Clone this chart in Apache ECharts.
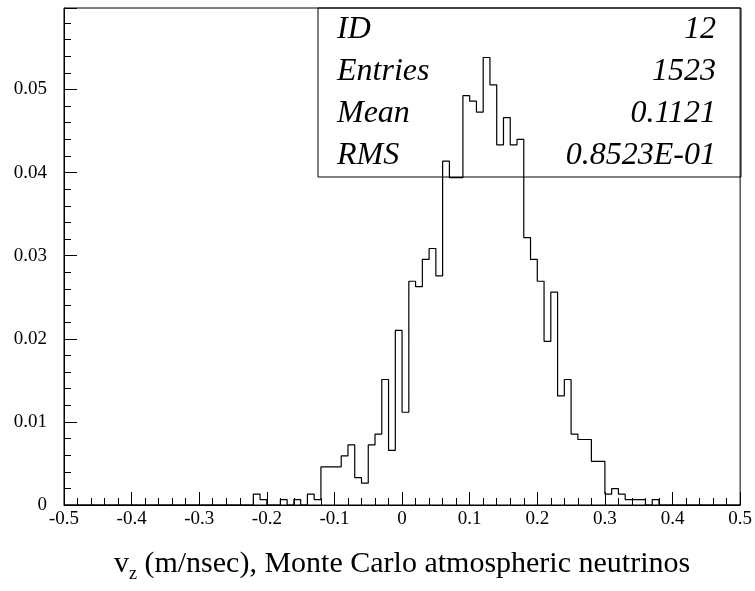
<!DOCTYPE html>
<html>
<head>
<meta charset="utf-8">
<script src="https://cdn.jsdelivr.net/npm/echarts@6/dist/echarts.min.js"></script>
<style>
html, body { margin: 0; padding: 0; background: #fff; }
#chart { width: 755px; height: 591px; }
</style>
</head>
<body>
<div id="chart"></div>
<script>
// histogram 12: counts per 0.01 bin, first bin starts at -0.22
const entries = 1523;
const binWidth = 0.01;
const firstBin = -0.22;
const counts = [
    2, 1, 0, 0, 1, 0, 1, 0, 2, 1,        // -0.22 .. -0.13
    7, 7, 7, 9, 11, 5, 4, 11, 13, 23,    // -0.12 .. -0.03
    10, 32, 17, 41, 40, 45, 47, 42, 63, 60, // -0.02 .. 0.07
    60, 75, 74, 72, 82, 77, 66, 71, 66, 67, // 0.08 .. 0.17
    49, 45, 41, 30, 39, 20, 23, 13, 12, 12, // 0.18 .. 0.27
    8, 8, 2, 3, 2, 1, 1, 1, 0, 1          // 0.28 .. 0.37
];
const statLabels = ['ID', 'Entries', 'Mean', 'RMS'];
const statValues = ['12', '1523', '0.1121', '0.8523E-01'];
const xRange = [-0.5, 0.5];
const yMax = 0.0598;

const r2 = v => Math.round(v * 1000) / 1000;

// step outline: left edge of each bin + closing points
const stepData = [[xRange[0], 0]];
counts.forEach((c, i) => {
    stepData.push([r2(firstBin + i * binWidth), c / entries]);
});
stepData.push([r2(firstBin + counts.length * binWidth), 0]);
stepData.push([xRange[1], 0]);

const serif = 'Liberation Serif';
const statFont = 'italic 32px "Liberation Serif"';

const statText = [];
statLabels.forEach((s, i) => {
    const y = 31 + i * 42;
    statText.push({
        type: 'text', left: 337, top: y - 17,
        style: { text: s, font: statFont, fill: '#000' }
    });
    statText.push({
        type: 'text', right: 39, top: y - 17,
        style: { text: statValues[i], font: statFont, fill: '#000' }
    });
});

var myChart = echarts.init(document.getElementById('chart'));
var option = {
    backgroundColor: '#fff',
    animation: false,
    grid: {
        left: 64, right: 14, top: 8, bottom: 86,
        show: true, borderColor: '#000', borderWidth: 1
    },
    xAxis: {
        type: 'value',
        min: xRange[0], max: xRange[1], interval: 0.1,
        axisLine: { show: true, onZero: false, lineStyle: { color: '#000', width: 1 } },
        axisTick: { show: true, inside: true, length: 13, lineStyle: { color: '#000' } },
        minorTick: { show: true, splitNumber: 5, length: 7, lineStyle: { color: '#000' } },
        splitLine: { show: false },
        axisLabel: {
            color: '#000', fontFamily: serif, fontSize: 19, margin: 5,
            formatter: v => String(r2(v))
        },
        name: '{v|v}{z|z}{t| (m/nsec), Monte Carlo atmospheric neutrinos}',
        nameLocation: 'middle',
        nameGap: 40,
        nameTextStyle: {
            color: '#000',
            rich: {
                v: { fontFamily: serif, fontSize: 30, color: '#000', lineHeight: 38 },
                z: { fontFamily: serif, fontSize: 18, color: '#000', verticalAlign: 'bottom', lineHeight: 18 },
                t: { fontFamily: serif, fontSize: 30, color: '#000', lineHeight: 38 }
            }
        }
    },
    yAxis: {
        type: 'value',
        min: 0, max: yMax, interval: 0.01,
        axisLine: { show: true, onZero: false, lineStyle: { color: '#000', width: 1 } },
        axisTick: { show: true, inside: true, length: 13, lineStyle: { color: '#000' } },
        minorTick: { show: true, splitNumber: 5, length: 7, lineStyle: { color: '#000' } },
        splitLine: { show: false },
        axisLabel: {
            color: '#000', fontFamily: serif, fontSize: 19, margin: 17,
            showMaxLabel: false,
            formatter: v => String(r2(v))
        }
    },
    series: [{
        type: 'line',
        step: 'end',
        data: stepData,
        symbol: 'none',
        lineStyle: { color: '#000', width: 1.2 }
    }],
    graphic: [{
        type: 'rect',
        shape: { x: 318, y: 8, width: 423, height: 169 },
        style: { fill: null, stroke: '#000', lineWidth: 1 }
    }].concat(statText)
};
option && myChart.setOption(option);
</script>
</body>
</html>
